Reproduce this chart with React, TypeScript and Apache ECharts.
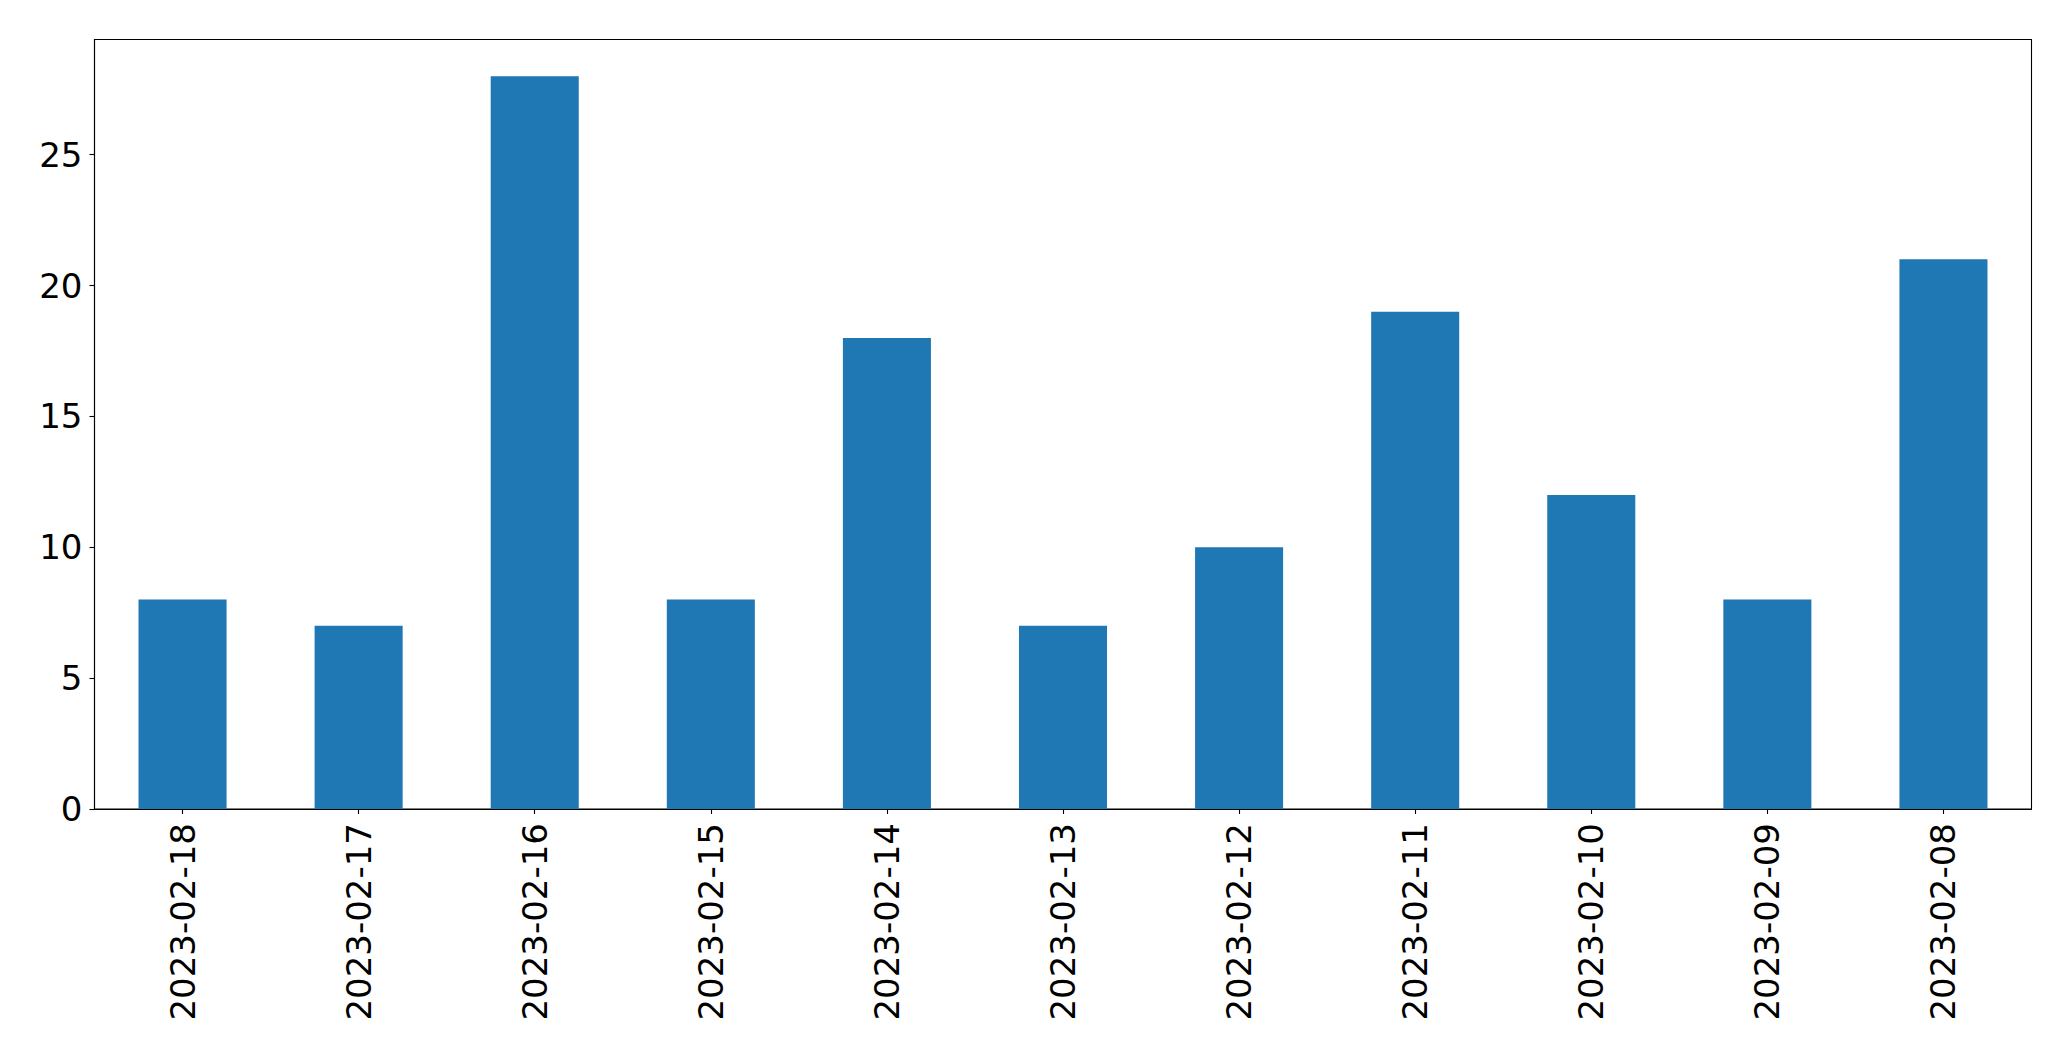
import React, { useEffect, useRef } from "react";
import * as echarts from "echarts";

const categories = [
  "2023-02-18", "2023-02-17", "2023-02-16", "2023-02-15", "2023-02-14", "2023-02-13",
  "2023-02-12", "2023-02-11", "2023-02-10", "2023-02-09", "2023-02-08",
];
const values = [8, 7, 28, 8, 18, 7, 10, 19, 12, 8, 21];
const yTicks = [0, 5, 10, 15, 20, 25];

export default function App() {
  const ref = useRef<HTMLDivElement>(null);
  useEffect(() => {
    if (!ref.current) return;
    const chart = echarts.init(ref.current, undefined, { renderer: "svg" });
    const font = "DejaVu Sans";
    chart.setOption({
      animation: false,
      backgroundColor: "#ffffff",
      grid: {
        left: 94.5,
        right: 39.5,
        top: 39.5,
        bottom: 252,
        show: true,
        borderColor: "#000",
        borderWidth: 1.1,
        containLabel: false,
      },
      xAxis: {
        type: "category",
        data: categories,
        boundaryGap: true,
        axisLine: { show: true, lineStyle: { color: "#000", width: 1.1 } },
        axisTick: { show: true, alignWithLabel: true, length: 5, lineStyle: { color: "#000", width: 1.1 } },
        axisLabel: {
          rotate: 90,
          interval: 0,
          margin: 14,
          color: "#000",
          fontFamily: font,
          fontSize: 34,
        },
        splitLine: { show: false },
      },
      yAxis: {
        type: "value",
        min: 0,
        max: 29.4,
        interval: 5,
        axisLine: { show: true, lineStyle: { color: "#000", width: 1.1 } },
        axisTick: { show: true, length: 5, customValues: yTicks, lineStyle: { color: "#000", width: 1.1 } },
        axisLabel: {
          customValues: yTicks,
          margin: 12,
          color: "#000",
          fontFamily: font,
          fontSize: 34,
        },
        splitLine: { show: false },
      },
      series: [
        {
          type: "bar",
          data: values,
          barWidth: "50%",
          itemStyle: { color: "#1f77b4" },
        },
      ],
    });
    return () => chart.dispose();
  }, []);
  return (
    <div
      ref={ref}
      style={{ position: "fixed", left: 0, top: 0, width: 2071, height: 1061, background: "#fff" }}
    />
  );
}
